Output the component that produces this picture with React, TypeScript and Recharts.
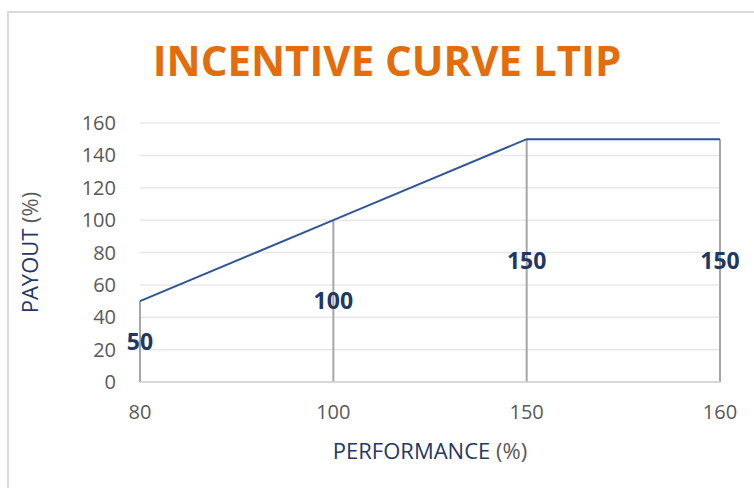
import { LineChart, Line, XAxis, YAxis, CartesianGrid, ReferenceLine } from 'recharts';

const performance = ['80', '100', '150', '160'];
const payout = [50, 100, 150, 150];
const payoutTicks = [0, 20, 40, 60, 80, 100, 120, 140, 160];

const data = performance.map((p, i) => ({ performance: p, payout: payout[i] }));

const NAVY = '#1F3864';
const GREY_TEXT = '#595959';
const FONT = '"Open Sans", sans-serif';

const XTitle = (props: any) => {
  const vb = props.viewBox;
  return (
    <text
      x={vb.x + vb.width / 2}
      y={vb.y + 77}
      textAnchor="middle"
      fontSize={22}
      fontFamily={FONT}
    >
      <tspan fill={NAVY}>PERFORMANCE</tspan>
      <tspan fill={GREY_TEXT}> (%)</tspan>
    </text>
  );
};

const YTitle = (props: any) => {
  const vb = props.viewBox;
  const x = vb.x + 38;
  const y = vb.y + vb.height / 2;
  return (
    <text
      x={x}
      y={y}
      textAnchor="middle"
      fontSize={22}
      fontFamily={FONT}
      transform={`rotate(-90, ${x}, ${y})`}
    >
      <tspan fill={NAVY}>PAYOUT</tspan>
      <tspan fill={GREY_TEXT}> (%)</tspan>
    </text>
  );
};

export default function App() {
  return (
    <div
      style={{
        position: 'absolute',
        left: 0,
        top: 0,
        width: 754,
        height: 488,
        overflow: 'hidden',
        background: '#fff',
      }}
    >
      <div
        style={{
          position: 'absolute',
          left: 7,
          top: 11,
          width: 800,
          height: 600,
          border: '2px solid #DADADA',
        }}
      />
      <div
        style={{
          position: 'absolute',
          left: 0,
          top: 32,
          width: 774,
          textAlign: 'center',
          fontFamily: FONT,
          fontWeight: 700,
          fontSize: 42,
          lineHeight: '56px',
          color: '#E46C0A',
        }}
      >
        INCENTIVE CURVE LTIP
      </div>
      <div style={{ position: 'absolute', left: 0, top: 0 }}>
        <LineChart
          width={754}
          height={488}
          data={data}
          margin={{ top: 123, right: 34, bottom: 0, left: 0 }}
        >
          <CartesianGrid vertical={false} stroke="#E8E8E8" strokeWidth={1.5} />
          <XAxis
            dataKey="performance"
            height={106}
            tickLine={false}
            tickSize={0}
            tickMargin={23}
            axisLine={{ stroke: '#D0D0D0', strokeWidth: 1.5 }}
            tick={{ fill: GREY_TEXT, fontSize: 20, fontFamily: FONT }}
            label={{ content: XTitle }}
          />
          <YAxis
            domain={[0, 160]}
            ticks={payoutTicks}
            width={140}
            axisLine={false}
            tickLine={false}
            tickSize={0}
            tickMargin={24}
            tick={{ fill: GREY_TEXT, fontSize: 20, fontFamily: FONT }}
            label={{ content: YTitle }}
          />
          {data.map((d) => (
            <ReferenceLine
              key={d.performance}
              segment={[
                { x: d.performance, y: 0 },
                { x: d.performance, y: d.payout },
              ]}
              stroke="#A6A6A6"
              strokeWidth={2}
              label={{
                value: d.payout,
                position: 'center',
                fill: '#203864',
                fontSize: 23,
                fontWeight: 700,
                fontFamily: FONT,
              }}
            />
          ))}
          <Line
            type="linear"
            dataKey="payout"
            stroke="#2F5597"
            strokeWidth={2}
            dot={false}
            activeDot={false}
            isAnimationActive={false}
          />
        </LineChart>
      </div>
    </div>
  );
}
